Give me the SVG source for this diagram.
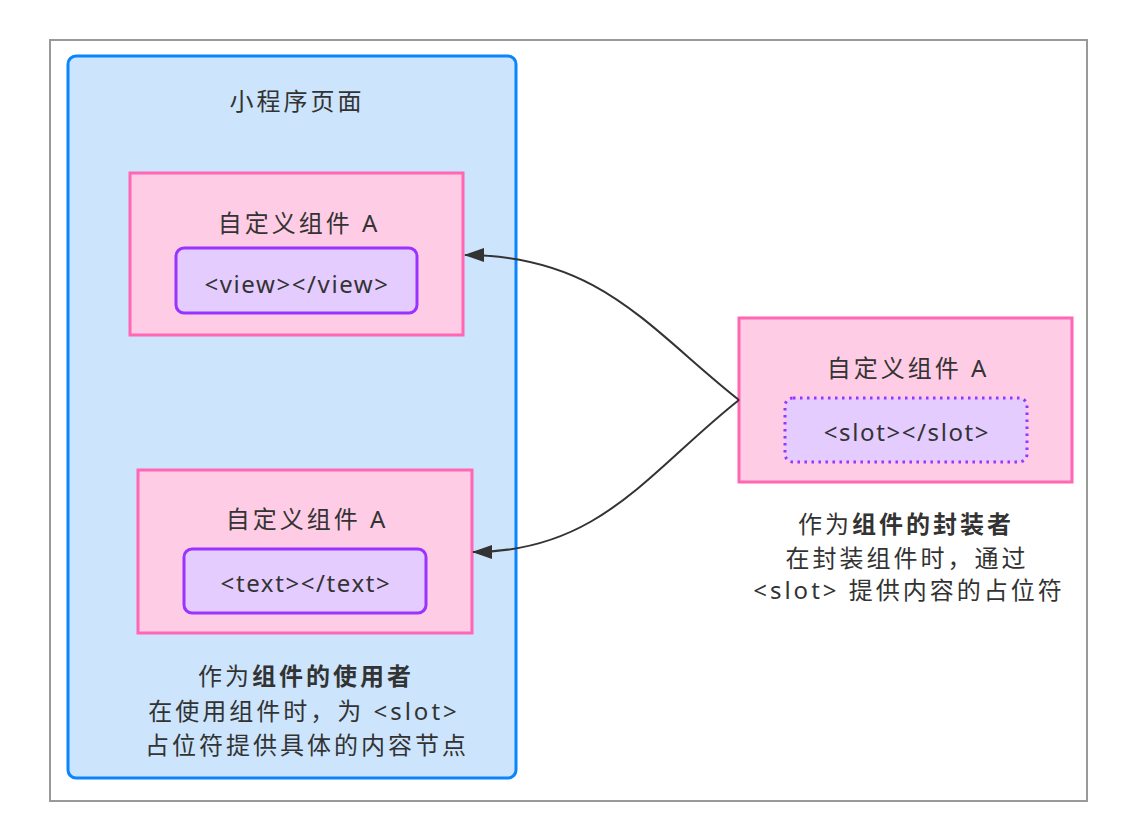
<svg xmlns="http://www.w3.org/2000/svg" width="1136" height="838" viewBox="0 0 1136 838">
<style>
text{font-family:"Noto Sans","Noto Sans CJK SC",sans-serif;fill:#333;text-anchor:middle;dominant-baseline:central;font-size:24px;letter-spacing:3px}
.tag{letter-spacing:1.6px}
.b{font-weight:bold}
.comp{fill:#ffcce6;stroke:#ff66b3;stroke-width:3}
.inner{fill:#e5ccff;stroke:#9933ff;stroke-width:3}
.conn{fill:none;stroke:#333;stroke-width:2}
</style>
<defs>
<marker id="arr" viewBox="0 0 20 14" refX="19" refY="7" markerWidth="20" markerHeight="14" markerUnits="userSpaceOnUse" orient="auto">
<path d="M0,0 L20,7 L0,14 Z" fill="#333"/>
</marker>
</defs>
<rect x="0" y="0" width="1136" height="838" fill="#fff"/>
<rect x="50" y="40" width="1037" height="761" fill="#fff" stroke="#999" stroke-width="2"/>
<g id="page">
<rect x="68" y="56" width="448" height="722" rx="8" fill="#cce5fc" stroke="#0a84ff" stroke-width="3"/>
<text x="297" y="100">小程序页面</text>
<text x="306" y="675">作为<tspan class="b">组件的使用者</tspan></text>
<text x="304" y="710">在使用组件时，为 &lt;slot&gt;</text>
<text x="307" y="744">占位符提供具体的内容节点</text>
</g>
<g id="compA1">
<rect class="comp" x="130" y="173" width="333" height="162"/>
<text x="299" y="222">自定义组件 A</text>
<rect class="inner" x="176" y="248" width="241" height="65" rx="8"/>
<text class="tag" x="297" y="283">&lt;view&gt;&lt;/view&gt;</text>
</g>
<g id="compA2">
<rect class="comp" x="138" y="470" width="334" height="163"/>
<text x="307" y="518">自定义组件 A</text>
<rect class="inner" x="184" y="549" width="242" height="64" rx="8"/>
<text class="tag" x="306" y="582">&lt;text&gt;&lt;/text&gt;</text>
</g>
<g id="compSlot">
<rect class="comp" x="739" y="318" width="333" height="164"/>
<text x="908" y="367">自定义组件 A</text>
<rect x="785" y="398" width="242" height="64" rx="8" fill="#e5ccff" stroke="#9933ff" stroke-width="3" stroke-dasharray="2.5 4.5"/>
<text class="tag" x="907" y="431">&lt;slot&gt;&lt;/slot&gt;</text>
<text x="906" y="523">作为<tspan class="b">组件的封装者</tspan></text>
<text x="907" y="557">在封装组件时，通过</text>
<text x="909" y="589">&lt;slot&gt; 提供内容的占位符</text>
</g>
<g id="connectors">
<path class="conn" d="M739,400 C650,330 600,255 465,255" marker-end="url(#arr)"/>
<path class="conn" d="M739,400 C650,470 600,552 473,552" marker-end="url(#arr)"/>
</g>
</svg>
